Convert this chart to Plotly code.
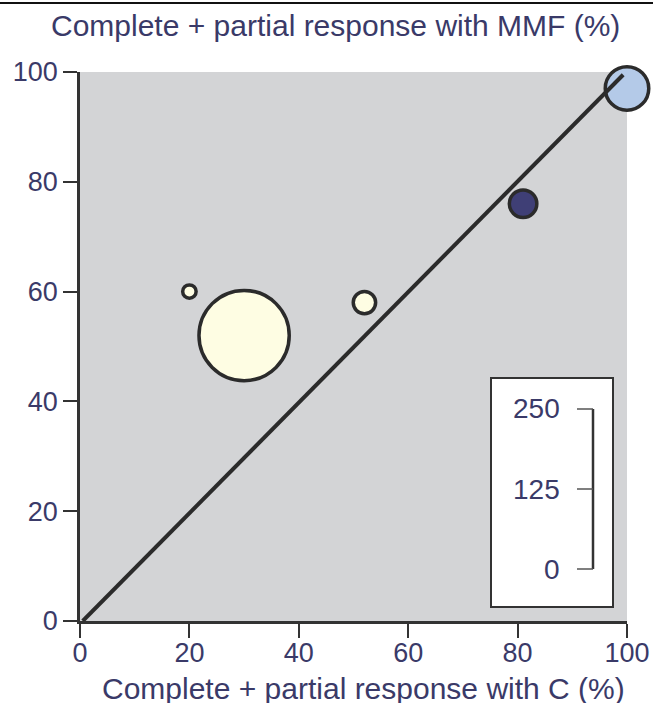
import plotly.graph_objects as go

# Data
x_c = [20, 30, 52, 81, 100]          # complete + partial response with C (%)
y_mmf = [60, 52, 58, 76, 97]         # complete + partial response with MMF (%)
n_patients = [21, 141, 35, 43, 68]   # bubble size (patients)
fill_colors = ["#fefde3", "#fefde3", "#fefde3", "#3f3f76", "#b4cae8"]
axis_ticks = [0, 20, 40, 60, 80, 100]
size_ticks = [0, 125, 250]
line_x = [0.5, 99.3]
line_y = [0, 99.5]

TEXT = "#3a3a68"
FONT = "Liberation Sans, Arial, sans-serif"

W, H = 653, 703
L, R, T, B = 80, 26, 72, 82
pw, ph = W - L - R, H - T - B

SCALE_PX = 160  # pixel length of the size scale bar for max value
sizeref = max(size_ticks) / SCALE_PX

fig = go.Figure()
fig.add_trace(go.Scatter(
    x=x_c, y=y_mmf, mode="markers",
    marker=dict(size=n_patients, sizemode="diameter", sizeref=sizeref,
                color=fill_colors, opacity=1,
                line=dict(color="#2b2b2b", width=3.5)),
    cliponaxis=False, hoverinfo="skip", showlegend=False))
fig.add_trace(go.Scatter(
    x=line_x, y=line_y, mode="lines",
    line=dict(color="#2b2b2b", width=4),
    cliponaxis=False, hoverinfo="skip", showlegend=False))

def px_x(px):
    return (px - L) / pw

def px_y(py):
    return (H - B - py) / ph

shapes = []
annotations = []
# top rule
shapes.append(dict(type="line", xref="paper", yref="paper",
                   x0=px_x(0), x1=px_x(W), y0=px_y(3), y1=px_y(3),
                   line=dict(color="#111111", width=2)))
# size legend box
shapes.append(dict(type="rect", xref="paper", yref="paper",
                   x0=px_x(491), x1=px_x(613), y0=px_y(607), y1=px_y(378),
                   fillcolor="white", line=dict(color="#333333", width=2), layer="above"))
bar_x = px_x(593)
y_bottom = px_y(569)
y_top = y_bottom + SCALE_PX / ph
shapes.append(dict(type="line", xref="paper", yref="paper",
                   x0=bar_x, x1=bar_x, y0=y_bottom, y1=y_top,
                   line=dict(color="#333333", width=2.5), layer="above"))
for v in size_ticks:
    yy = y_bottom + v / max(size_ticks) * (y_top - y_bottom)
    shapes.append(dict(type="line", xref="paper", yref="paper",
                       x0=px_x(577), x1=bar_x, y0=yy, y1=yy,
                       line=dict(color="#555555", width=1.5), layer="above"))
    annotations.append(dict(xref="paper", yref="paper", x=px_x(562), y=yy,
                            text=str(v), showarrow=False, xanchor="right",
                            yanchor="middle", font=dict(size=28, color=TEXT, family=FONT)))

annotations.append(dict(xref="paper", yref="paper", x=px_x(335), y=px_y(25),
                        text="Complete + partial response with MMF (%)", showarrow=False,
                        xanchor="center", yanchor="middle",
                        font=dict(size=30, color=TEXT, family=FONT)))
annotations.append(dict(xref="paper", yref="paper", x=px_x(363), y=px_y(688),
                        text="Complete + partial response with C (%)", showarrow=False,
                        xanchor="center", yanchor="middle",
                        font=dict(size=30, color=TEXT, family=FONT)))

axis_common = dict(range=[0, 100], tickvals=axis_ticks, ticks="outside", ticklen=14,
                   tickwidth=1.5, tickcolor="#333333", showline=True, linecolor="#333333",
                   linewidth=2.5, showgrid=False, zeroline=False, automargin=False,
                   tickfont=dict(size=27, color=TEXT, family=FONT))
fig.update_layout(
    template="none",
    width=W, height=H, autosize=False,
    margin=dict(l=L, r=R, t=T, b=B, pad=0),
    paper_bgcolor="white", plot_bgcolor="#d3d4d6",
    xaxis=dict(**axis_common, ticklabelstandoff=-8),
    yaxis=dict(**axis_common, ticklabelstandoff=0),
    shapes=shapes, annotations=annotations, showlegend=False,
)
fig.write_html("out.html", config={"displayModeBar": False},
               post_script="document.body.style.margin='0';document.body.style.overflow='hidden';")
